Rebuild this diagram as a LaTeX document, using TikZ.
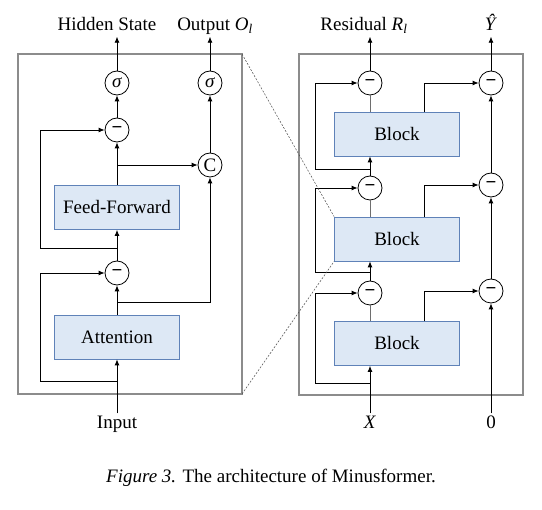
\documentclass[tikz,border=0pt]{standalone}
\usepackage{amsmath}
\usepackage{amssymb}
\usepackage{xcolor}
\usepackage{fontspec}
\setmainfont{Liberation Serif}
\usepackage{tikz}
\usetikzlibrary{arrows.meta}

\definecolor{blockfill}{HTML}{DDE8F5}
\definecolor{blockedge}{HTML}{5F82B8}
\definecolor{framegray}{HTML}{8C8C8C}
\definecolor{stemgray}{HTML}{6E6E6E}

\tikzset{
  opnode/.style={circle, draw, line width=0.8pt, minimum size=24pt, inner sep=0pt, fill=white},
  blockbox/.style={draw=blockedge, line width=0.8pt, fill=blockfill,
    minimum width=125pt, minimum height=44pt, inner sep=0pt},
  tag/.style={inner sep=2pt, text height=13pt, text depth=4pt},
  panel/.style={draw=framegray, line width=1.6pt},
  wire/.style={->, line width=0.8pt},
  stem/.style={draw=stemgray, line width=0.8pt},
  zoomline/.style={dashed, dash pattern=on 2pt off 1.5pt, line width=0.5pt, black!70}
}
\newcommand{\minus}{\raisebox{0.5pt}{\bfseries −}}
\newcommand{\sig}{\textit{σ}}

\begin{document}
\begin{tikzpicture}[x=1pt, y=-1pt, >={Latex[length=6pt,width=5pt]},
    font=\fontsize{19}{22}\selectfont]
  \useasboundingbox (0,0) rectangle (542,510);
  \def\lx{117}
  \def\cx{210}
  \def\rx{370}
  \def\yx{491}

  % left panel: one layer
  \draw[panel] (18,54) coordinate (L nw) rectangle (242,394) coordinate (L se);
  \coordinate (L ne) at (242,54);

  \node[tag] (hidden) at (\lx-10,26) {Hidden State};
  \node[tag] (output) at (\cx+5,26) {Output \textit{O}\textsubscript{\textit{l}}};
  \node[opnode] (sig h) at (\lx,83) {\sig};
  \node[opnode] (sig o) at (\cx,83) {\sig};
  \node[opnode] (sub2) at (\lx,130) {\minus};
  \node[opnode] (cat) at (\cx,165) {C};
  \node[blockbox] (ffn) at (\lx,207.5) {Feed-Forward};
  \node[opnode] (sub1) at (\lx,273) {\minus};
  \node[blockbox] (attn) at (\lx,337) {Attention};
  \node[tag] (input) at (\lx,424) {Input};

  \coordinate (fb1) at (\lx,381);
  \coordinate (br1) at (\lx,302);
  \coordinate (fb2) at (\lx,248);
  \coordinate (br2) at (\lx,165);

  \draw[wire] (input) -- (attn);
  \draw[wire] (fb1) --++ (-77,0) |- (sub1);
  \draw[wire] (attn) -- (sub1);
  \draw[wire] (br1) -| (cat);
  \draw[wire] (sub1) -- (ffn);
  \draw[wire] (fb2) --++ (-77,0) |- (sub2);
  \draw[wire] (ffn) -- (sub2);
  \draw[wire] (br2) -- (cat);
  \draw[wire] (sub2) -- (sig h);
  \draw[wire] (sig h) -- (hidden.south -| sig h);
  \draw[wire] (cat) -- (sig o);
  \draw[wire] (sig o) -- (output.south -| sig o);

  % right panel: stacked blocks
  \draw[panel] (299,54) rectangle (523,395);

  \node[tag] (residual) at (\rx-6,26) {Residual \textit{R}\textsubscript{\textit{l}}};
  \node[tag] (yhat) at (\yx,26) {\textit{Ŷ}};
  \node[opnode] (rsub3) at (\rx,83) {\minus};
  \node[opnode] (ysub3) at (\yx,83) {\minus};
  \node[blockbox] (blk1) at (397,134) {Block};
  \node[opnode] (rsub2) at (\rx,188) {\minus};
  \node[opnode] (ysub2) at (\yx,185) {\minus};
  \node[blockbox] (blk2) at (397,239) {Block};
  \node[opnode] (rsub1) at (\rx,293) {\minus};
  \node[opnode] (ysub1) at (\yx,291) {\minus};
  \node[blockbox] (blk3) at (397,343.5) {Block};
  \node[tag] (xin) at (\rx,424) {\textit{X}};
  \node[tag] (zero) at (\yx,424) {0};

  \coordinate (rfb1) at (\rx,383);
  \coordinate (rfb2) at (\rx,272);
  \coordinate (rfb3) at (\rx,169);

  \draw[wire] (xin) -- (xin |- blk3.south);
  \draw[wire] (rfb1) --++ (-55,0) |- (rsub1);
  \draw[stem] (blk3.north -| rsub1) -- (rsub1);
  \draw[wire] ([xshift=27pt]blk3.north) |- (ysub1);
  \draw[wire] (zero) -- (ysub1);

  \draw[wire] (rsub1) -- (rsub1 |- blk2.south);
  \draw[wire] (rfb2) --++ (-55,0) |- (rsub2);
  \draw[stem] (blk2.north -| rsub2) -- (rsub2);
  \draw[wire] ([xshift=27pt]blk2.north) |- (ysub2);
  \draw[wire] (ysub1) -- (ysub2);

  \draw[wire] (rsub2) -- (rsub2 |- blk1.south);
  \draw[wire] (rfb3) --++ (-55,0) |- (rsub3);
  \draw[stem] (blk1.north -| rsub3) -- (rsub3);
  \draw[wire] ([xshift=27pt]blk1.north) |- (ysub3);
  \draw[wire] (ysub2) -- (ysub3);

  \draw[wire] (rsub3) -- (residual.south -| rsub3);
  \draw[wire] (ysub3) -- (yhat);

  \draw[zoomline]
    (L ne) -- (blk2.north west)
    (L se) -- (blk2.south west)
  ;

  \node (caption) at (271,478) {\textit{Figure 3.} The architecture of Minusformer.};
\end{tikzpicture}
\end{document}
